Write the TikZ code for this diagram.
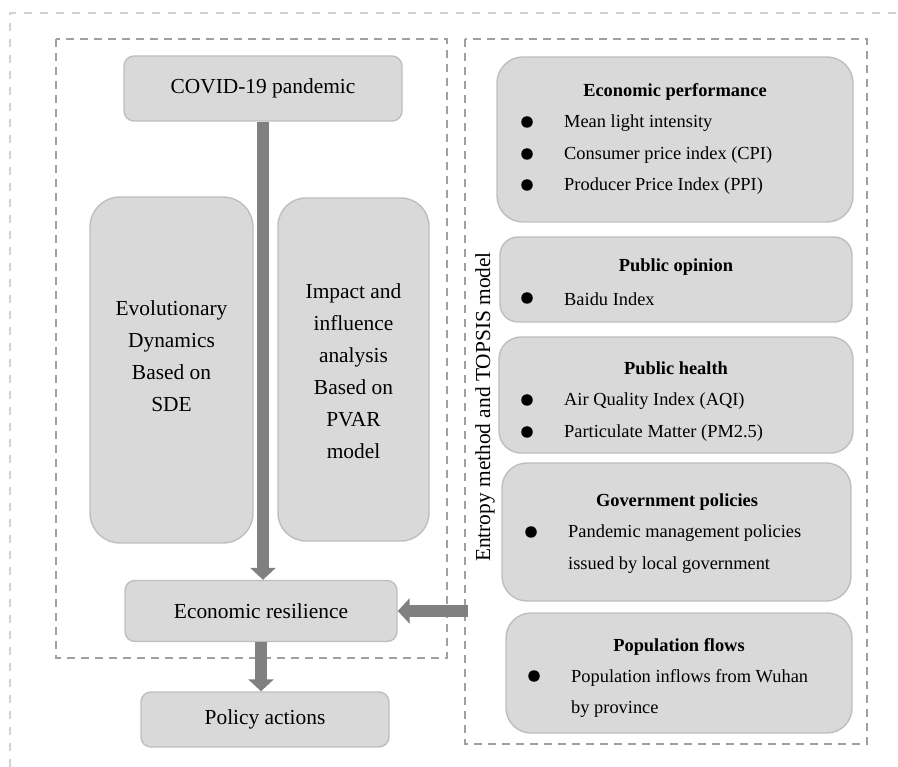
\documentclass[tikz,border=0pt]{standalone}
\usepackage{fontspec}
\setmainfont{Liberation Serif}
\usetikzlibrary{arrows.meta}
\definecolor{boxfill}{RGB}{217,217,217}
\definecolor{boxline}{RGB}{190,190,190}
\definecolor{arrowgray}{RGB}{128,128,128}
\definecolor{dashgray}{RGB}{160,160,160}
\definecolor{outergray}{RGB}{210,210,210}
\tikzset{
  gbox/.style={draw=boxline, fill=boxfill, line width=1.4pt, inner sep=0pt, rounded corners=#1},
  gbox/.default=10pt,
  bigtxt/.style={font=\fontsize{21.4}{32}\selectfont, align=center, inner sep=0pt},
  smalltxt/.style={font=\fontsize{18.4}{32}\selectfont, inner sep=0pt, yshift=-1.5pt},
  headtxt/.style={font=\fontsize{18.4}{32}\selectfont\bfseries, inner sep=0pt, yshift=-1.5pt},
  bulletdot/.style={circle, fill=black, inner sep=0pt, minimum size=11.5pt},
  fatarrow/.style={draw=arrowgray, line width=11.7pt, -{Triangle[width=25pt,length=12pt]}, arrowgray},
  dashbox/.style={draw=dashgray, line width=1.4pt, dash pattern=on 8pt off 6pt},
  outerdash/.style={draw=outergray, line width=1.4pt, dash pattern=on 8pt off 8pt}
}
\begin{document}
\begin{tikzpicture}[x=1pt,y=-1pt]
\useasboundingbox (0,0) rectangle (898,767);
% outer dashed frame
\coordinate (o1) at (10,767);
\coordinate (o2) at (10,13);
\coordinate (o3) at (898,13);
\draw[outerdash] (o1) -- (o2) -- (o3);
% dashed groups
\coordinate (lg1) at (56,39);
\coordinate (lg2) at (447,658);
\draw[dashbox] (lg1) rectangle (lg2);
\coordinate (rg1) at (465,39);
\coordinate (rg2) at (867,744);
\draw[dashbox] (rg1) rectangle (rg2);

% left column
\node[gbox, minimum width=278pt, minimum height=65pt, bigtxt] (covid) at (263,88.5) {COVID-19 pandemic};
\node[gbox=30pt, minimum width=163pt, minimum height=346pt] (evo) at (171.5,370) {};
\node[bigtxt] (evotxt) at (171.5,356) {Evolutionary\\Dynamics\\Based on\\SDE};
\node[gbox=28pt, minimum width=151pt, minimum height=343pt] (imp) at (353.5,369.5) {};
\node[bigtxt] (imptxt) at (353.5,371) {Impact and\\influence\\analysis\\Based on\\PVAR\\model};
\node[gbox, minimum width=272pt, minimum height=61pt, bigtxt] (resil) at (261,611) {Economic resilience};
\node[gbox, minimum width=248pt, minimum height=55pt, bigtxt] (policy) at (265,719.5) {Policy actions};

% arrows
\draw[fatarrow] (covid.south) -- (covid.south |- resil.north);
\draw[fatarrow] (resil.south) -- (resil.south |- policy.north);
\coordinate (hstart) at (468,611);
\draw[fatarrow] (hstart) -- (resil.east);

% rotated label
\node[bigtxt, rotate=90] (entropy) at (485,407) {Entropy method and TOPSIS model};

% right column boxes
\node[gbox=26pt, minimum width=356pt, minimum height=165pt] (econ) at (675,139.5) {};
\node[headtxt] (econh) at (675,90) {Economic performance};
\node[bulletdot] (eb1) at (527,122) {};
\node[smalltxt, anchor=west] (et1) at (564,122) {Mean light intensity};
\node[bulletdot] (eb2) at (527,154) {};
\node[smalltxt, anchor=west] (et2) at (564,154) {Consumer price index (CPI)};
\node[bulletdot] (eb3) at (527,185) {};
\node[smalltxt, anchor=west] (et3) at (564,185) {Producer Price Index (PPI)};

\node[gbox=18pt, minimum width=352pt, minimum height=85pt] (opin) at (676,279.5) {};
\node[headtxt] (opinh) at (676,266) {Public opinion};
\node[bulletdot] (ob1) at (527,298) {};
\node[smalltxt, anchor=west] (ot1) at (564,298) {Baidu Index};

\node[gbox=22pt, minimum width=354pt, minimum height=116pt] (health) at (676,395) {};
\node[headtxt] (healthh) at (676,367) {Public health};
\node[bulletdot] (hb1) at (527,400) {};
\node[smalltxt, anchor=west] (ht1) at (564,400) {Air Quality Index (AQI)};
\node[bulletdot] (hb2) at (527,432) {};
\node[smalltxt, anchor=west] (ht2) at (564,432) {Particulate Matter (PM2.5)};

\node[gbox=25pt, minimum width=349pt, minimum height=138pt] (gov) at (676.5,532) {};
\node[headtxt] (govh) at (677,501) {Government policies};
\node[bulletdot] (gb1) at (531,532) {};
\node[smalltxt, anchor=west] (gt1) at (568,532) {Pandemic management policies};
\node[smalltxt, anchor=west] (gt2) at (568,564) {issued by local government};

\node[gbox=25pt, minimum width=346pt, minimum height=120pt] (pop) at (679,673) {};
\node[headtxt] (poph) at (679,645) {Population flows};
\node[bulletdot] (pb1) at (534,676) {};
\node[smalltxt, anchor=west] (pt1) at (571,676) {Population inflows from Wuhan};
\node[smalltxt, anchor=west] (pt2) at (571,708) {by province};
\end{tikzpicture}
\end{document}
